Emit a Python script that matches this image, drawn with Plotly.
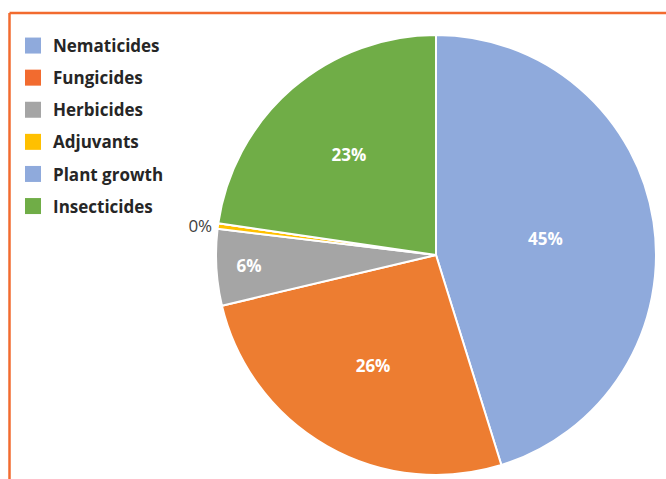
import plotly.graph_objects as go

categories = ["Nematicides", "Fungicides", "Herbicides", "Adjuvants", "Plant growth", "Insecticides"]
shares = [45.2, 26.1, 5.6, 0.4, 0.0, 22.7]
slice_colors = ["#8FAADC", "#ED7D31", "#A5A5A5", "#FFC000", "#8FAADC", "#70AD47"]
legend_colors = ["#8FAADC", "#F26B2F", "#A5A5A5", "#FFC000", "#8FAADC", "#70AD47"]
text_positions = ["inside", "inside", "inside", "outside", "none", "inside"]

W, H = 666, 479
BORDER = "#F26B2F"

fig = go.Figure()

fig.add_trace(go.Pie(
    labels=categories,
    values=shares,
    sort=False,
    direction="clockwise",
    rotation=0,
    marker=dict(colors=slice_colors, line=dict(color="white", width=2)),
    texttemplate="%{percent:.0%}",
    textposition=text_positions,
    insidetextorientation="horizontal",
    textfont=dict(family="Open Sans", size=17),
    insidetextfont=dict(family="Open Sans", size=17, color="white", weight=700),
    outsidetextfont=dict(family="Open Sans", size=17, color="#404040"),
    showlegend=False,
    hoverinfo="label+percent",
    domain=dict(x=[216 / W, 656 / W], y=[4 / H, 444 / H]),
))

for name, col in zip(categories, legend_colors):
    fig.add_trace(go.Scatter(
        x=[None], y=[None], mode="markers", name=name, legendgroup=name,
        marker=dict(symbol="square", size=16, color=col),
        showlegend=True,
    ))

fig.update_layout(
    width=W, height=H,
    margin=dict(l=0, r=0, t=0, b=0),
    paper_bgcolor="white",
    plot_bgcolor="white",
    xaxis=dict(visible=False),
    yaxis=dict(visible=False),
    legend=dict(
        x=13 / W, y=1 - 28 / H, xanchor="left", yanchor="top",
        font=dict(family="Open Sans", size=17, color="#262626", weight=700),
        tracegroupgap=7, itemsizing="trace", bgcolor="rgba(0,0,0,0)",
    ),
    shapes=[
        dict(type="line", xref="paper", yref="paper", x0=9.5 / W, x1=1, y0=1 - 13 / H, y1=1 - 13 / H,
             line=dict(color=BORDER, width=2.5)),
        dict(type="line", xref="paper", yref="paper", x0=9.5 / W, x1=9.5 / W, y0=0, y1=1 - 13 / H,
             line=dict(color=BORDER, width=2.5)),
    ],
)

fig.write_html("out.html", config={"displayModeBar": False},
               post_script="document.body.style.margin='0';document.body.style.padding='0';")
